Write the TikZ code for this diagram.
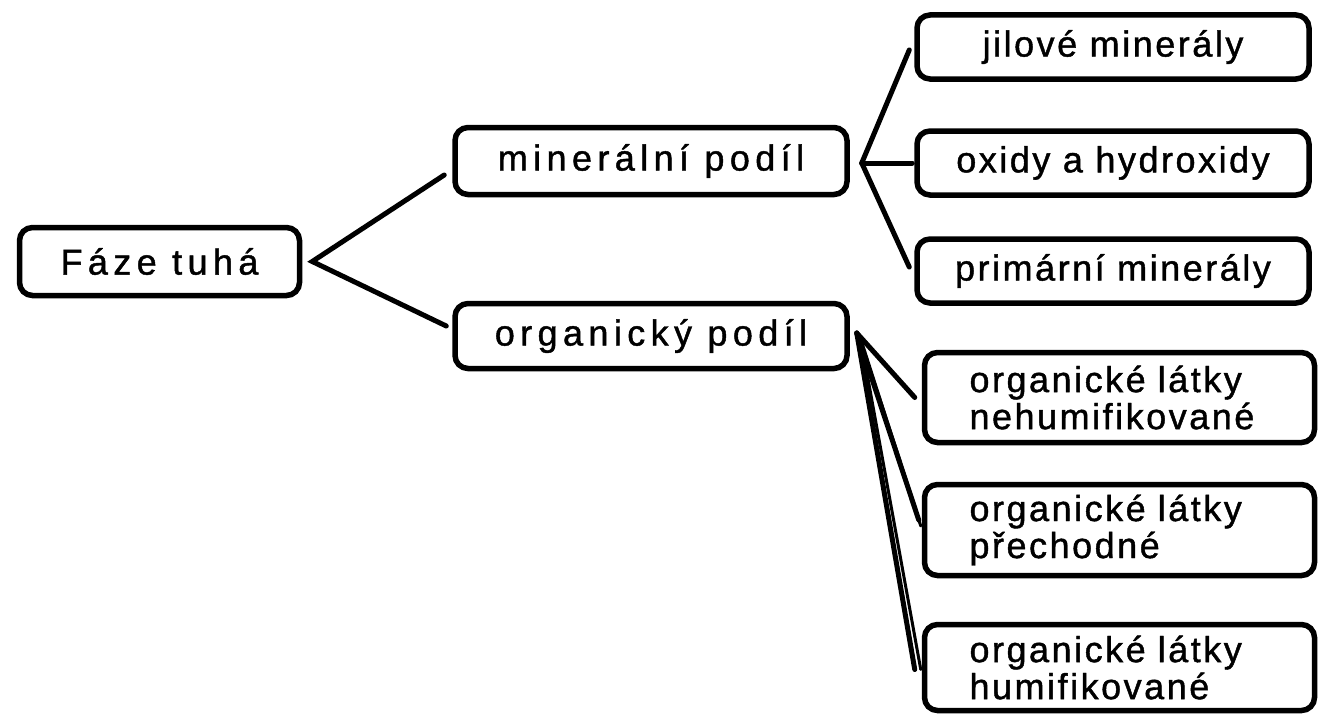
\documentclass[tikz,border=0pt]{standalone}
\usepackage{fontspec}
\setmainfont{Liberation Sans}[LetterSpace=7,FakeBold=1.2]
\newfontfamily\widefont{Liberation Sans}[LetterSpace=15,FakeBold=1.2]
\begin{document}
\begin{tikzpicture}[x=1pt,y=-1pt,
  box/.style={draw, line width=5.5pt, rounded corners=13pt, inner sep=0pt,
    font=\fontsize{36}{37}\selectfont},
  lbox/.style={box, font=\widefont\fontsize{36}{37}\selectfont},
  rbox/.style={box, minimum width=392pt, minimum height=64pt},
  obox/.style={box, minimum width=390pt, align=left, text width=300pt},
  conn/.style={line width=5pt, line cap=round, line join=miter}]
\useasboundingbox (0,0) rectangle (1321,717);
\fill[white] (0,0) rectangle (1321,717);

\node[lbox, minimum width=280pt, minimum height=68pt] (faze) at (159.5,261.5) {Fáze tuhá};
\node[lbox, minimum width=392pt, minimum height=67pt] (min) at (651,161) {minerální podíl};
\node[lbox, minimum width=392pt, minimum height=65pt] (org) at (651,336) {organický podíl};

\node[rbox] (jil) at (1113,47) {jilové minerály};
\node[rbox] (oxi) at (1113,163) {oxidy a hydroxidy};
\node[rbox] (pri) at (1113,271) {primární minerály};

\node[obox, minimum height=90pt] (o1) at (1119.5,397.5) {organické látky\\nehumifikované};
\node[obox, minimum height=91pt] (o2) at (1119.5,530) {organické látky\\přechodné};
\node[obox, minimum height=86pt] (o3) at (1119.5,667.5) {organické látky\\humifikované};

\coordinate (fa) at ([xshift=10pt]faze.east);
\coordinate (ma) at ([xshift=12pt,yshift=-2pt]min.east);
\coordinate (oa) at ([xshift=7pt,yshift=3pt]org.east);

\draw[conn] ([xshift=-8pt,yshift=-14pt]min.west) -- (fa) -- ([xshift=-6pt,yshift=10pt]org.west);

\draw[conn] ([xshift=-5pt,yshift=-3pt]jil.west) -- (ma) -- ([xshift=-5pt,yshift=4pt]pri.west);
\draw[conn] (ma) -- ([xshift=-2pt]oxi.west);

\draw[conn] (oa) -- ([xshift=-7pt]o1.west);
\draw[conn] (oa) -- ([xshift=-3pt,yshift=10pt]o2.west);
\draw[conn] (oa) -- ([xshift=-7pt,yshift=-2pt]o3.west);
\draw[conn, line width=3pt] ([xshift=4pt,yshift=-6pt]oa) -- ([xshift=-1pt,yshift=4pt]o2.west);
\draw[conn, line width=3pt] ([xshift=4pt,yshift=-6pt]oa) -- ([xshift=-1pt,yshift=-2pt]o3.west);
\end{tikzpicture}
\end{document}
